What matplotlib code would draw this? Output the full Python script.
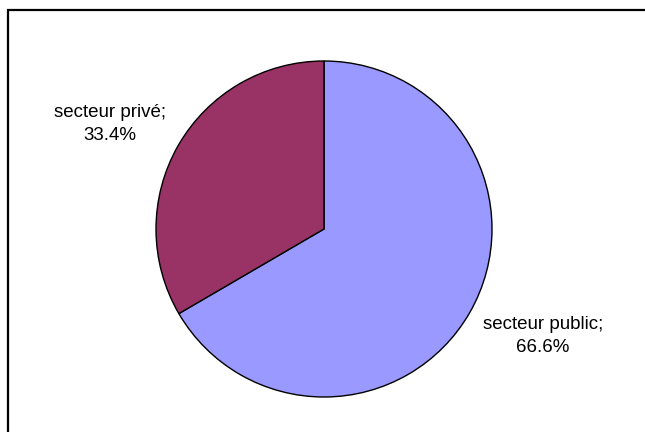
import matplotlib
matplotlib.use("Agg")
import matplotlib.pyplot as plt
from matplotlib.patches import Rectangle

plt.rcParams['font.family'] = ['Liberation Sans', 'DejaVu Sans']

categories = ["secteur public", "secteur privé"]
shares = [66.6, 33.4]
colors = ["#9999FF", "#993366"]

W, H, DPI = 645, 432, 100
fig = plt.figure(figsize=(W / DPI, H / DPI), dpi=DPI)
fig.patch.set_facecolor("white")

# Axes spanning the figure, one data unit = pie radius in pixels
cx, cy, r = 324, 229, 168
ax = fig.add_axes([0, 0, 1, 1])

ax.pie(shares, colors=colors, startangle=90, counterclock=False,
       radius=1.0, center=(0, 0), frame=True,
       wedgeprops=dict(edgecolor="black", linewidth=1.0))
ax.set_xlim(-cx / r, (W - cx) / r)
ax.set_ylim(-(H - cy) / r, cy / r)
ax.set_aspect("auto")
ax.axis("off")

label_pos = {"secteur public": (1.304, -0.635), "secteur privé": (-1.274, 0.625)}
for name, val in zip(categories, shares):
    x, y = label_pos[name]
    ax.text(x, y, f"{name};\n{val:.1f}%", ha="center", va="center",
            fontsize=13.5, linespacing=1.45, color="black")

# Chart-area border (top and left edges visible within the canvas)
fig.patches.append(Rectangle((7.5 / W, -0.5), 1.5, 0.5 + 1 - 9.5 / H,
                             transform=fig.transFigure, fill=False,
                             edgecolor="black", linewidth=1.6))

fig.savefig("out.png", dpi=DPI)
